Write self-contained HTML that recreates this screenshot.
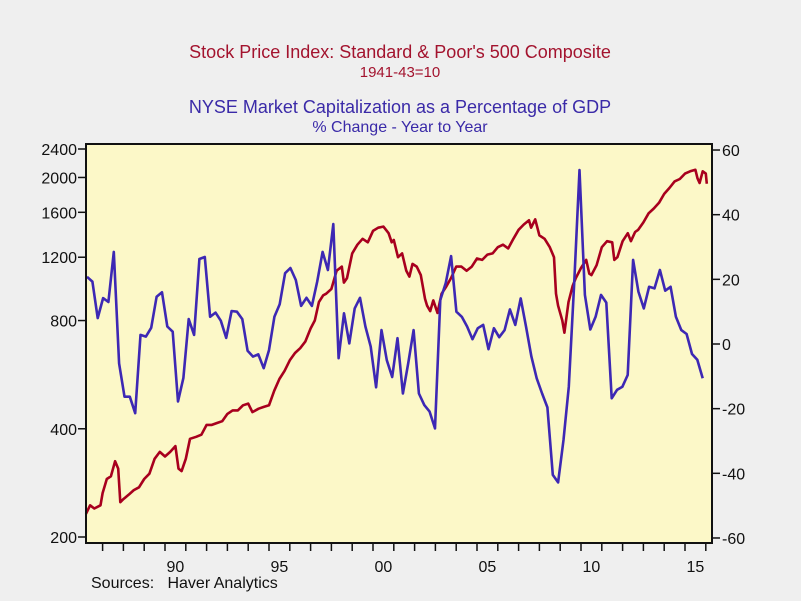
<!DOCTYPE html>
<html><head><meta charset="utf-8"><style>
html,body{margin:0;padding:0;background:#efefef;}
svg{display:block;font-family:"Liberation Sans",sans-serif;}
</style></head><body>
<svg id="chart" width="801" height="601" viewBox="0 0 801 601">
<rect x="0" y="0" width="801" height="601" fill="#efefef"/>
<text x="400" y="58" text-anchor="middle" font-size="18" fill="#a3132e">Stock Price Index: Standard &amp; Poor's 500 Composite</text>
<text x="400" y="77" text-anchor="middle" font-size="15" fill="#a3132e">1941-43=10</text>
<text x="400" y="113" text-anchor="middle" font-size="18" fill="#3a2aa8">NYSE Market Capitalization as a Percentage of GDP</text>
<text x="400" y="132" text-anchor="middle" font-size="16" fill="#3a2aa8">% Change - Year to Year</text>
<rect x="86" y="144" width="626" height="399" fill="#fcf8c8"/>
<g id="axes"></g>
<g id="series"></g>
<rect x="86" y="144" width="626" height="399" fill="none" stroke="#111" stroke-width="2"/>
<text x="91" y="588" font-size="16" fill="#111">Sources:&#160;&#160;&#160;Haver Analytics</text>
</svg>
<script>
const leftTicks=[200,400,800,1200,1600,2000,2400];
const rightTicks=[-60,-40,-20,0,20,40,60];
const yearLabels=["90","95","00","05","10","15"];
const yearLabelYears=[1990,1995,2000,2005,2010,2015];
const spDates=[1986.2,1986.4,1986.6,1986.9,1987.0,1987.2,1987.4,1987.6,1987.75,1987.85,1988.0,1988.25,1988.5,1988.75,1989.0,1989.25,1989.5,1989.75,1990.0,1990.25,1990.5,1990.65,1990.8,1991.0,1991.2,1991.5,1991.75,1992.0,1992.25,1992.5,1992.75,1993.0,1993.25,1993.5,1993.75,1994.0,1994.2,1994.5,1994.75,1995.0,1995.25,1995.5,1995.75,1996.0,1996.25,1996.5,1996.75,1997.0,1997.2,1997.4,1997.6,1997.75,1998.0,1998.25,1998.5,1998.6,1998.75,1999.0,1999.25,1999.5,1999.75,2000.0,2000.25,2000.5,2000.75,2000.9,2001.0,2001.2,2001.4,2001.6,2001.75,2001.9,2002.1,2002.3,2002.5,2002.6,2002.75,2002.9,2003.1,2003.3,2003.5,2003.75,2004.0,2004.25,2004.5,2004.75,2005.0,2005.25,2005.5,2005.75,2006.0,2006.25,2006.5,2006.75,2007.0,2007.25,2007.5,2007.6,2007.8,2008.0,2008.25,2008.5,2008.7,2008.8,2008.9,2009.1,2009.2,2009.4,2009.6,2009.75,2010.0,2010.25,2010.4,2010.5,2010.75,2011.0,2011.25,2011.5,2011.6,2011.75,2012.0,2012.25,2012.4,2012.6,2012.75,2013.0,2013.25,2013.5,2013.75,2014.0,2014.25,2014.5,2014.75,2015.0,2015.25,2015.5,2015.6,2015.7,2015.85,2016.0,2016.05];
const spValues=[232,245,240,245,265,290,295,325,310,250,255,262,270,275,290,300,330,345,335,345,358,310,305,330,375,380,385,410,410,415,420,440,450,450,465,470,445,455,460,465,510,550,580,620,650,670,700,760,800,900,940,950,980,1100,1130,1020,1050,1230,1300,1350,1320,1420,1450,1460,1400,1320,1340,1200,1230,1100,1060,1150,1130,1070,920,880,850,910,840,950,990,1050,1130,1130,1100,1130,1190,1180,1220,1230,1280,1300,1270,1350,1430,1480,1520,1450,1530,1380,1350,1280,1200,950,880,800,740,900,1000,1050,1120,1180,1080,1070,1140,1280,1330,1320,1180,1200,1330,1400,1330,1410,1430,1500,1590,1640,1700,1800,1870,1950,1980,2050,2080,2100,1990,1930,2080,2050,1920];
const nyseStart=1986.25, nyseEnd=2015.85;
const nyseValues=[20.8,19.3,8,14.2,13,28.5,-6,-16.3,-16.3,-21.4,2.8,2.3,5,14.6,16,5.4,3.8,-17.8,-10.5,7.7,2.8,26.3,26.9,8.4,9.7,7.2,1.9,10.2,10,7.7,-2.1,-3.9,-3.2,-7.5,-1.9,8.4,12.3,21.9,23.5,19.8,11.8,14.3,11.8,19.3,28.5,22.9,37.1,-4.4,9.5,0.2,11,14.3,5.4,-0.8,-13.4,4.3,-5,-10.2,1.8,-15.3,-6,4.3,-15.3,-18.9,-20.9,-26.1,13.6,18.8,27.2,10,8.4,5.4,1.5,4.9,5.9,-1.6,4.9,2.1,4.3,10.7,5.9,14.1,5.4,-3.9,-10.6,-15.3,-19.6,-40.5,-42.8,-29.7,-13.2,18.8,53.8,15.2,4.5,8.4,15.2,12.8,-16.8,-14.2,-13.2,-9.6,26,16.2,11,17.7,17.2,22.9,16.5,17.7,8.4,4.3,3.1,-3.1,-4.9,-10.6];

const NS="http://www.w3.org/2000/svg";
const xOf=t=>165+(t-1990)*20.8;
const yLeft=v=>537-Math.log(v/200)/Math.log(12)*388;
const yRight=v=>344-v*3.233;
function mk(tag,attrs,parent){const e=document.createElementNS(NS,tag);for(const k in attrs)e.setAttribute(k,attrs[k]);parent.appendChild(e);return e;}
const axes=document.getElementById('axes'), series=document.getElementById('series');
leftTicks.forEach(v=>{const y=yLeft(v);
 const l=mk('line',{x1:78,x2:86,y1:y,y2:y,stroke:'#111','stroke-width':1.5},axes);
 
 
 const t=mk('text',{x:77,y:y+6,'text-anchor':'end','font-size':16,fill:'#111'},axes);t.textContent=v;
 
 });
rightTicks.forEach(v=>{const y=yRight(v);
 const l=mk('line',{x1:712,x2:720,y1:y,y2:y,stroke:'#111','stroke-width':1.5},axes);
 
 
 const t=mk('text',{x:722,y:y+6,'font-size':16,fill:'#111'},axes);t.textContent=v;
 
 });
for(let yr=1987;yr<=2016;yr++){const x=xOf(yr);
 const l=mk('line',{x1:x,x2:x,y1:543,y2:551,stroke:'#111','stroke-width':1.5},axes);
 
 }
yearLabels.forEach((s,i)=>{const t=mk('text',{x:xOf(yearLabelYears[i]+0.5),y:572,'text-anchor':'middle','font-size':16,fill:'#111'},axes);t.textContent=s;
 
 });
const spPts=spDates.map((t,i)=>xOf(t).toFixed(1)+','+yLeft(spValues[i]).toFixed(1)).join(' ');
const sp=mk('polyline',{points:spPts,fill:'none',stroke:'#a8001e','stroke-width':2.6,'stroke-linejoin':'round'},series);


const step=(nyseEnd-nyseStart)/(nyseValues.length-1);
const nyPts=nyseValues.map((v,i)=>xOf(nyseStart+i*step).toFixed(1)+','+yRight(v).toFixed(1)).join(' ');
const ny=mk('polyline',{points:nyPts,fill:'none',stroke:'#3d28b4','stroke-width':2.6,'stroke-linejoin':'round'},series);


</script>
</body></html>
